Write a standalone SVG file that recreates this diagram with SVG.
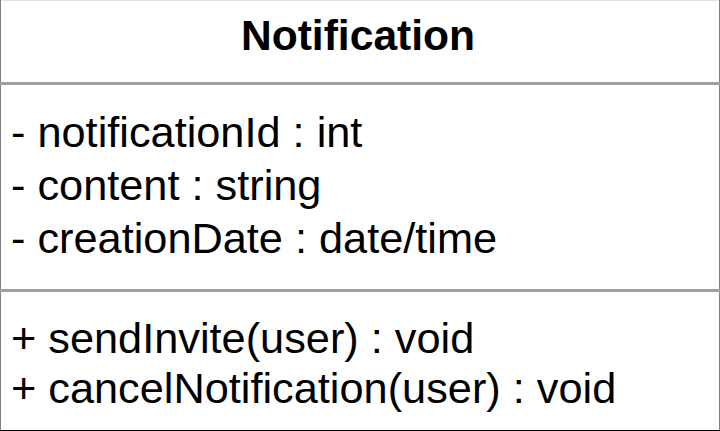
<svg xmlns="http://www.w3.org/2000/svg" width="720" height="431" viewBox="0 0 720 431">
<style>
.t{font-family:"Liberation Sans",Arial,sans-serif;fill:#000}
.title{font-size:42.6px;font-weight:bold}
.m{font-size:43.3px}
.div{stroke:#a0a0a0;stroke-width:3}
</style>
<g id="Notification">
<rect x="0" y="0" width="720" height="431" fill="#fff"/>
<line x1="0" y1="0.5" x2="720" y2="0.5" stroke="#e0e0e0" stroke-width="1"/>
<line x1="0.5" y1="0" x2="0.5" y2="431" stroke="#808080" stroke-width="1"/>
<line x1="719.5" y1="0" x2="719.5" y2="431" stroke="#808080" stroke-width="1"/>
<line x1="0" y1="430.5" x2="720" y2="430.5" stroke="#000" stroke-width="1"/>
<line class="div" x1="0" y1="83.5" x2="720" y2="83.5"/>
<line class="div" x1="0" y1="290.5" x2="720" y2="290.5"/>
<text class="t title" x="358" y="50" text-anchor="middle">Notification</text>
<text class="t m" x="11" y="147">- notificationId : int</text>
<text class="t m" x="11" y="200">- content : string</text>
<text class="t m" x="11" y="253">- creationDate : date/time</text>
<text class="t m" x="11" y="353">+ sendInvite(user) : void</text>
<text class="t m" x="11" y="403">+ cancelNotification(user) : void</text>
</g>
<g id="connectors"/>
</svg>
